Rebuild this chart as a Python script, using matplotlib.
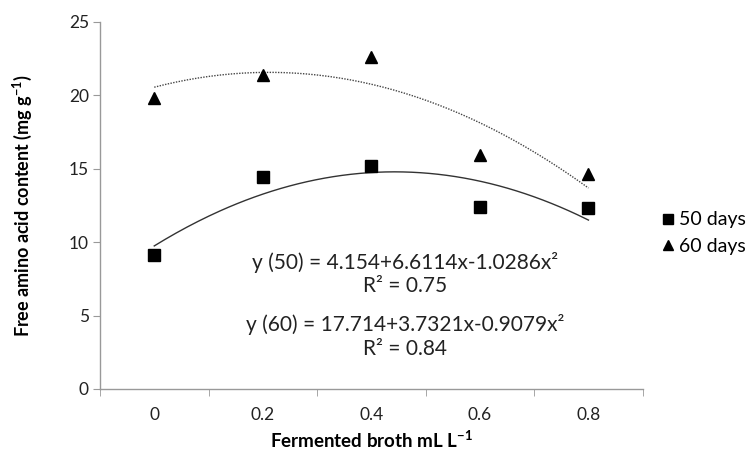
import numpy as np
import matplotlib.pyplot as plt

# doses of fermented broth (categories on the x axis)
doses = ["0", "0.2", "0.4", "0.6", "0.8"]

# measured free amino acid content (mg g-1)
days50 = [9.1, 14.4, 15.2, 12.4, 12.3]
days60 = [19.8, 21.4, 22.6, 15.9, 14.6]

# printed quadratic trend coefficients (x = 1..5), constant first
coef50 = [4.154, 6.6114, -1.0286]
coef60 = [17.714, 3.7321, -0.9079]
r2_50 = 0.75
r2_60 = 0.84

plt.rcParams['font.family'] = ['Lato', 'DejaVu Sans']

fig = plt.figure(figsize=(7.5, 4.51), dpi=100)
ax = fig.add_axes([0.1333, 0.1375, 0.7237, 0.8145])

idx = np.arange(len(doses))

# trend lines from the printed equations
xs = np.linspace(1, len(doses), 200)
ax.plot(xs - 1, np.polyval(coef50[::-1], xs), color='#333333', lw=1.0)
ax.plot(xs - 1, np.polyval(coef60[::-1], xs), color='#444444', lw=1.0,
        linestyle=(0, (1, 1)))

ax.plot(idx, days50, linestyle='none', marker='s', ms=9, color='black',
        label='50 days')
ax.plot(idx, days60, linestyle='none', marker='^', ms=9, color='black',
        label='60 days')

ax.set_xlim(-0.5, len(doses) - 0.5)
ax.set_ylim(0, 25)
ax.set_yticks(range(0, 26, 5))
ax.set_xticks(idx)
ax.set_xticklabels(doses)
ax.set_xticks(np.arange(-0.5, len(doses), 1), minor=True)
ax.tick_params(axis='x', which='major', length=0, pad=13, labelsize=12.5,
               labelcolor='#222222')
ax.tick_params(axis='x', which='minor', length=5, color='#999999',
               direction='out')
ax.tick_params(axis='y', length=5, color='#999999', labelsize=12.5,
               labelcolor='#222222', pad=3)

for side in ['top', 'right']:
    ax.spines[side].set_visible(False)
for side in ['left', 'bottom']:
    ax.spines[side].set_color('#999999')
    ax.spines[side].set_linewidth(1.0)

ax.set_xlabel('Fermented broth mL L$^{\\mathregular{-1}}$', fontsize=13.5,
              fontweight='bold')
ax.set_ylabel('Free amino acid content (mg g$^{\\mathregular{-1}}$)',
              fontsize=13, fontweight='bold')
ax.xaxis.set_label_coords(0.5, -0.11)
ax.yaxis.set_label_coords(-0.122, 0.5)

eq50 = "y (50) = {:.3f}+{:.4f}x{:.4f}x²\nR² = {:.2f}".format(
    coef50[0], coef50[1], coef50[2], r2_50)
eq60 = "y (60) = {:.3f}+{:.4f}x{:.4f}x²\nR² = {:.2f}".format(
    coef60[0], coef60[1], coef60[2], r2_60)
ax.text(2.31, 7.83, eq50, ha='center', va='center', fontsize=15,
        color='#222222', linespacing=1.2)
ax.text(2.31, 3.57, eq60, ha='center', va='center', fontsize=15,
        color='#222222', linespacing=1.2)

ax.legend(loc='center left', bbox_to_anchor=(1.035, 0.424), frameon=False,
          fontsize=14, handletextpad=0.3, handlelength=0.6, markerscale=0.8,
          labelspacing=0.5, borderpad=0, borderaxespad=0)

fig.savefig('out.png', dpi=100)
